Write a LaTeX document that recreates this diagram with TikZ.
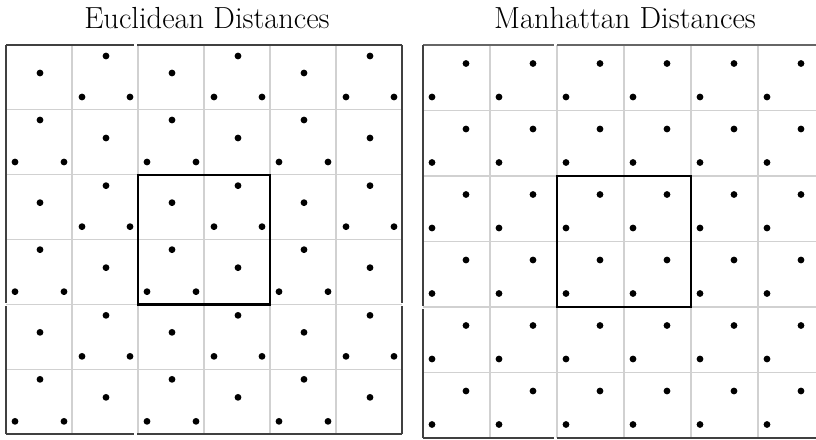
\documentclass[tikz,border=0pt]{standalone}
\begin{document}
\begin{tikzpicture}[x=1pt,y=-1pt,
  gridline/.style={draw=black!18,line width=1.3pt},
  frameline/.style={draw=black!75,line width=1.8pt},
  boldbox/.style={draw=black,line width=2.2pt},
  dotmark/.style={fill=black},
  title/.style={font=\fontsize{30.5}{34}\selectfont,inner sep=0pt}]
\useasboundingbox (0,0) rectangle (816,439);
\clip (0,0) rectangle (816,439);
\fill[white] (0,0) rectangle (816,439);
% titles
\node[title,anchor=base] (t1) at (207,28) {Euclidean Distances};
\node[title,anchor=base] (t2) at (625,28) {Manhattan Distances};
% ---------- left panel ----------
\foreach \i in {1,...,5}{
  \draw[gridline] ({6+66*\i},45) -- ({6+66*\i},434);
  \draw[gridline] (6,{45+64.83*\i}) -- (402,{45+64.83*\i});
}
\foreach \bx in {0,1,2}{
  \foreach \by in {0,1,2}{
    \foreach \dx/\dy in {34/28,100/11,76/52,124/52,34/75,9/117,58/117,100/93}{
      \fill[dotmark] ({6+132*\bx+\dx},{45+129.67*\by+\dy}) circle (3.4);
    }
  }
}
\draw[frameline] (6,45) -- (134,45);
\draw[frameline] (137,45) -- (402,45);
\draw[frameline] (6,434) -- (134,434);
\draw[frameline] (137,434) -- (402,434);
\draw[frameline] (6,45) -- (6,303);
\draw[frameline] (6,306) -- (6,434);
\draw[frameline] (402,45) -- (402,303);
\draw[frameline] (402,306) -- (402,434);
\draw[boldbox] (138,175) rectangle (270,304.5);
% ---------- right panel ----------
\foreach \i in {1,...,6}{
  \draw[gridline] ({423+67*\i},45) -- ({423+67*\i},438);
}
\foreach \i in {1,...,5}{
  \draw[gridline] (423,{45+65.5*\i}) -- (825,{45+65.5*\i});
}
\foreach \cx in {0,...,5}{
  \foreach \cy in {0,...,5}{
    \fill[dotmark] ({423+67*\cx+9},{45+65.5*\cy+52}) circle (3.4);
    \fill[dotmark] ({423+67*\cx+43},{45+65.5*\cy+18.5}) circle (3.4);
  }
}
\draw[frameline,draw=black!60] (423,45) -- (554,45);
\draw[frameline,draw=black!60] (557,45) -- (825,45);
\draw[frameline] (423,438) -- (554,438);
\draw[frameline] (557,438) -- (825,438);
\draw[frameline] (423,45) -- (423,306);
\draw[frameline] (423,309) -- (423,438);
\draw[boldbox] (557,176) rectangle (691,307);
\end{tikzpicture}
\end{document}
